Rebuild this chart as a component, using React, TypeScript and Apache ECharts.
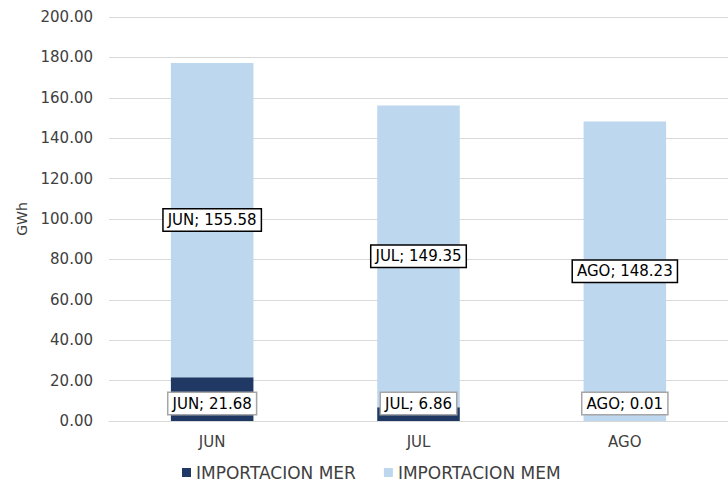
import React, { useEffect, useRef } from "react";
import * as echarts from "echarts";

const categories = ["JUN", "JUL", "AGO"];
const importMer = [21.68, 6.86, 0.01];
const importMem = [155.58, 149.35, 148.23];
const seriesNames = ["IMPORTACION MER", "IMPORTACION MEM"];

const FONT = "'DejaVu Sans', sans-serif";

export default function App() {
  const ref = useRef<HTMLDivElement>(null);
  useEffect(() => {
    if (!ref.current) return;
    const chart = echarts.init(ref.current, null, { renderer: "svg" });
    const fmt = (p: any) => `${p.name}; ${Number(p.value).toFixed(2)}`;
    chart.setOption({
      animation: false,
      textStyle: { fontFamily: FONT },
      grid: { left: 109, right: 0, top: 17, bottom: 65 },
      legend: {
        bottom: 0,
        left: 177,
        itemWidth: 9,
        itemHeight: 9,
        itemGap: 28,
        icon: "rect",
        textStyle: { fontSize: 17, color: "#404040", fontFamily: FONT },
        data: seriesNames,
      },
      xAxis: {
        type: "category",
        data: categories,
        axisTick: { show: false },
        axisLine: { show: true, lineStyle: { color: "#d9d9d9" } },
        axisLabel: { fontSize: 15, color: "#404040", margin: 13, fontFamily: FONT },
      },
      yAxis: {
        type: "value",
        min: 0,
        max: 200,
        interval: 20,
        name: "GWh",
        nameLocation: "middle",
        nameRotate: 90,
        nameGap: 80,
        nameTextStyle: { fontSize: 14, color: "#404040", fontFamily: FONT },
        axisLabel: {
          fontSize: 15,
          color: "#404040",
          margin: 16,
          fontFamily: FONT,
          formatter: (v: number) => v.toFixed(2),
        },
        splitLine: { lineStyle: { color: "#d9d9d9", width: 1 } },
        axisLine: { show: false },
        axisTick: { show: false },
      },
      series: [
        {
          name: seriesNames[0],
          type: "bar",
          stack: "total",
          data: importMer,
          barWidth: "40%",
          itemStyle: { color: "#203864" },
          label: {
            show: true,
            position: "insideBottom",
            distance: 7,
            formatter: fmt,
            fontSize: 15,
            color: "#000",
            fontFamily: FONT,
            backgroundColor: "#fff",
            borderColor: "#a6a6a6",
            borderWidth: 1.5,
            padding: [3, 4, 3, 4],
          },
        },
        {
          name: seriesNames[1],
          type: "bar",
          stack: "total",
          data: importMem,
          barWidth: "40%",
          itemStyle: { color: "#bdd7ee" },
          label: {
            show: true,
            position: "inside",
            formatter: fmt,
            fontSize: 15,
            color: "#000",
            fontFamily: FONT,
            backgroundColor: "#fff",
            borderColor: "#000",
            borderWidth: 1.5,
            padding: [3, 4, 3, 4],
          },
        },
      ],
    });
    return () => chart.dispose();
  }, []);
  return <div ref={ref} style={{ width: 728, height: 486, position: "absolute", left: 0, top: 0 }} />;
}
